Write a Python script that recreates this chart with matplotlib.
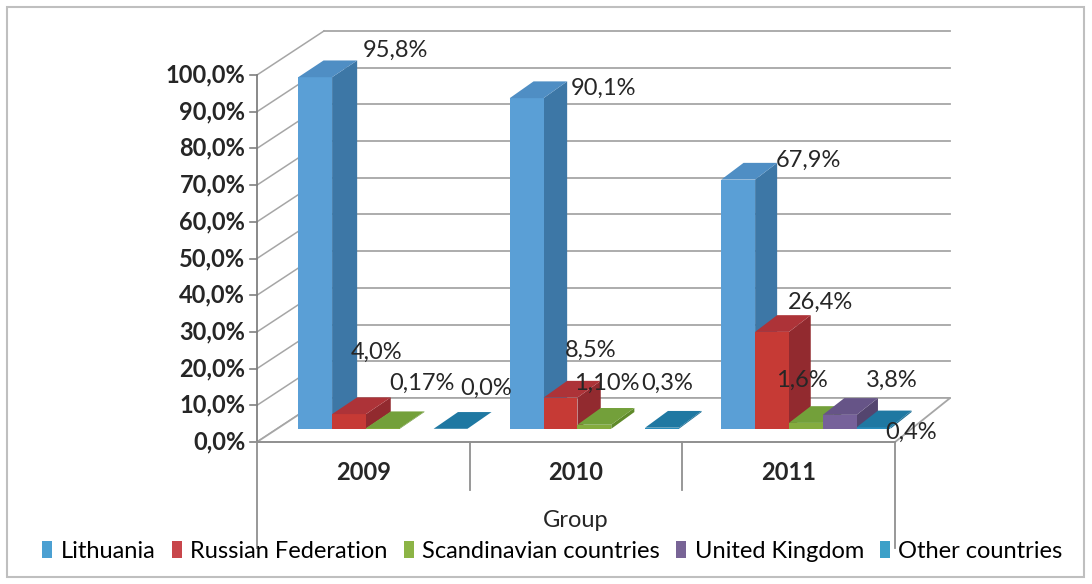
import numpy as np
import matplotlib.pyplot as plt
from matplotlib.patches import Polygon, Patch

years = ['2009', '2010', '2011']
series = ['Lithuania', 'Russian Federation', 'Scandinavian countries',
          'United Kingdom', 'Other countries']
lithuania = [95.8, 90.1, 67.9]
russia = [4.0, 8.5, 26.4]
scandinavia = [0.17, 1.10, 1.6]
uk = [np.nan, np.nan, 3.8]
other = [0.0, 0.3, 0.4]
decimals = [[1, 1, 1], [1, 1, 1], [2, 2, 1], [1, 1, 1], [1, 1, 1]]
yticks = np.arange(0, 101, 10)

values = [lithuania, russia, scandinavia, uk, other]

# front / side / top shades per series
front_c = ['#5a9fd6', '#c63a35', '#84ac3e', '#76619a', '#2a8cbb']
side_c = ['#3d77a6', '#922a2f', '#5f8a2a', '#54456f', '#1f6e94']
top_c = ['#4f8ec4', '#ad3338', '#73a03a', '#665487', '#1f78a2']
legend_c = ['#4ba0d2', '#c8464b', '#8cb446', '#786496', '#3ca0c8']

# label nudges in pixels (dx, dy) from the back-right top corner of each bar
label_shift = {
    (0, 0): (38, 10), (0, 1): (36, -7), (0, 2): (31, 3),
    (1, 0): (-14, 45), (1, 1): (-10, 31), (1, 2): (10, 13),
    (2, 0): (-2, 28), (2, 1): (-28, 25), (2, 2): (-42, 26),
    (3, 2): (14, 18),
    (4, 0): (-5, 24), (4, 1): (-34, 28), (4, 2): (0, -22),
}

plt.rcParams['font.family'] = ['Lato', 'DejaVu Sans']
fs = 17

fig = plt.figure(figsize=(10.92, 5.84), dpi=100)
ax = fig.add_axes([0, 0, 1, 1])
# one category = 212.7 px, one percent = 3.67 px, front floor corner at (257, 442)
ax.set_xlim(-257 / 212.7, (1092 - 257) / 212.7)
ax.set_ylim(-(584 - 442) / 3.67, 442 / 3.67)
ax.axis('off')


def proj(x, y, z):
    # oblique view: z=0 front plane, z=1 back wall
    return (x + z * (0.315 - 0.0187 * x), y + z * 12.0)


grid_c = '#a6a6a6'
# back wall gridlines and left wall diagonals
for v in yticks:
    p0, p1 = proj(0, v, 1), proj(3, v, 1)
    ax.plot([p0[0], p1[0]], [p0[1], p1[1]], color=grid_c, lw=1.3, zorder=1)
    q0 = proj(0, v, 0)
    ax.plot([q0[0], p0[0]], [q0[1], p0[1]], color=grid_c, lw=1.1, zorder=1)
    ax.plot([q0[0] - 0.035, q0[0]], [v, v], color='#808080', lw=1.2, zorder=1)
    ax.text(q0[0] - 0.055, v, f'{v:.1f}%'.replace('.', ','), ha='right',
            va='center', fontsize=fs, fontweight='bold', color='#262626')

# floor outline
fl = [proj(0, 0, 0), proj(3, 0, 0), proj(3, 0, 1), proj(0, 0, 1)]
ax.add_patch(Polygon(fl, closed=True, facecolor='white', edgecolor=grid_c,
                     lw=1.3, zorder=1.5))
ax.plot([0, 0], [0, 100], color='#808080', lw=1.3, zorder=2)

# category box below the floor
ax.plot([0, 3], [0, 0], color='#909090', lw=1.3, zorder=2)
for i in range(4):
    low = -29 if i in (0, 3) else -13
    ax.plot([i, i], [0, low], color='#909090', lw=1.3, zorder=2)
for i, yr in enumerate(years):
    ax.text(i + 0.5, -8.3, yr, ha='center', va='center', fontsize=fs,
            fontweight='bold', color='#262626')
ax.text(1.5, -21.3, 'Group', ha='center', va='center', fontsize=fs,
        color='#262626')

# bars
w = 0.16
z0, z1 = 0.3, 0.68
for c in range(len(years)):
    for s in range(len(series)):
        v = values[s][c]
        if np.isnan(v):
            continue
        x0 = c + 0.10 + w * s
        x1 = x0 + w
        if v > 0:
            front = [proj(x0, 0, z0), proj(x1, 0, z0), proj(x1, v, z0), proj(x0, v, z0)]
            side = [proj(x1, 0, z0), proj(x1, 0, z1), proj(x1, v, z1), proj(x1, v, z0)]
            ax.add_patch(Polygon(side, closed=True, facecolor=side_c[s],
                                 edgecolor='none', zorder=3 + s))
            ax.add_patch(Polygon(front, closed=True, facecolor=front_c[s],
                                 edgecolor='none', zorder=3 + s))
        top = [proj(x0, v, z0), proj(x1, v, z0), proj(x1, v, z1), proj(x0, v, z1)]
        ax.add_patch(Polygon(top, closed=True, facecolor=top_c[s],
                             edgecolor='none', zorder=3 + s))

        anchor = proj(x1, v, z1)
        dx, dy = label_shift[(s, c)]
        txt = f'{v:.{decimals[s][c]}f}%'.replace('.', ',')
        ax.annotate(txt, anchor, xytext=(dx, dy), textcoords='offset pixels',
                    ha='center', va='center', fontsize=fs, color='#262626',
                    zorder=10)

handles = [Patch(facecolor=legend_c[i], edgecolor='none', label=series[i])
           for i in range(len(series))]
fig.legend(handles=handles, loc='center', bbox_to_anchor=(0.506, 0.056),
           ncol=5, frameon=False, fontsize=17, handlelength=0.42,
           handleheight=0.7, handletextpad=0.35, columnspacing=0.7)

# chart border
fig.patches.append(plt.Rectangle((7 / 1092, 7 / 584), 1077 / 1092, 570 / 584,
                                 transform=fig.transFigure, fill=False,
                                 edgecolor='#bfbfbf', lw=1.5))

fig.savefig('out.png', dpi=100)
